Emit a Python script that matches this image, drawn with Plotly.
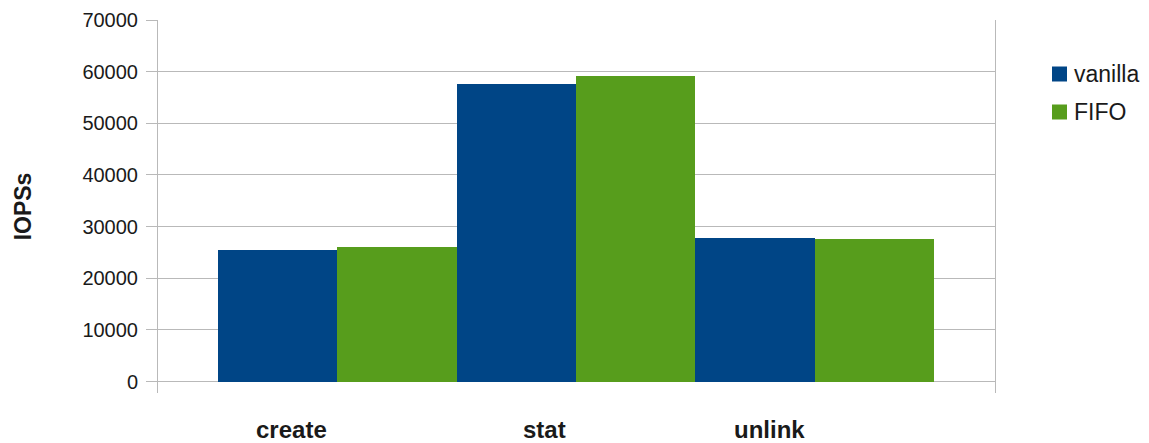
import plotly.graph_objects as go

# Metadata benchmark: IOPS per operation, vanilla vs FIFO scheduler
operations = ["create", "stat", "unlink"]
series_names = ["vanilla", "FIFO"]
vanilla_iops = [25500, 57600, 27800]
fifo_iops = [26000, 59200, 27600]
y_ticks = [0, 10000, 20000, 30000, 40000, 50000, 60000, 70000]

colors = ["#004586", "#579d1c"]
font_family = "Liberation Sans, Arial, sans-serif"
text_color = "#1a1a1a"
grid_color = "#b9b9b9"

fig = go.Figure()
for name, vals, col in zip(series_names, [vanilla_iops, fifo_iops], colors):
    fig.add_trace(go.Bar(
        x=operations, y=vals, name=name,
        marker=dict(color=col, line=dict(width=0)),
        showlegend=False,
    ))

# Category labels sit below the plot, right-aligned just left of each group centre
for op in operations:
    fig.add_annotation(x=op, xref="x", y=0, yref="paper",
                       text=f"<b>{op}</b>", showarrow=False,
                       xanchor="right", yanchor="middle",
                       xshift=-8, yshift=-36,
                       font=dict(family=font_family, size=24, color=text_color))

# Legend drawn as square swatches with labels on the right side
legend_top_px = 66.5
legend_step_px = 38
plot_top_px, plot_bottom_px = 20, 393
for i, (name, col) in enumerate(zip(series_names, colors)):
    top = legend_top_px + i * legend_step_px
    y0 = (plot_bottom_px - (top + 15)) / (plot_bottom_px - plot_top_px)
    y1 = (plot_bottom_px - top) / (plot_bottom_px - plot_top_px)
    x0 = (1052 - 158) / (995 - 158)
    x1 = (1067 - 158) / (995 - 158)
    fig.add_shape(type="rect", xref="paper", yref="paper",
                  x0=x0, x1=x1, y0=y0, y1=y1,
                  fillcolor=col, line=dict(width=0))
    fig.add_annotation(xref="paper", yref="paper",
                       x=(1072 - 158) / (995 - 158), y=(y0 + y1) / 2,
                       text=name, showarrow=False,
                       xanchor="left", yanchor="middle",
                       font=dict(family=font_family, size=23, color=text_color))

fig.update_layout(
    width=1149, height=443,
    margin=dict(l=158, r=154, t=20, b=50, pad=0),
    paper_bgcolor="white", plot_bgcolor="white",
    barmode="group", bargap=0, bargroupgap=0,
    font=dict(family=font_family, color=text_color),
    xaxis=dict(
        range=[-0.751, 2.755],
        automargin=False,
        showgrid=False, showline=False, zeroline=False,
        ticks="", showticklabels=False,
    ),
    yaxis=dict(
        range=[-2227, 70000],
        automargin=False,
        tickvals=y_ticks,
        ticktext=[str(v) for v in y_ticks],
        showgrid=True, gridcolor=grid_color, gridwidth=1,
        zeroline=False,
        showline=True, linecolor=grid_color, linewidth=1, mirror=True,
        ticks="outside", ticklen=11, tickcolor=grid_color, tickwidth=1,
        tickfont=dict(family=font_family, size=20, color=text_color),
        ticklabelstandoff=4,
        title=dict(text="IOPSs", standoff=44,
                   font=dict(family=font_family, size=23, color=text_color, weight="bold")),
    ),
)

fig.write_html("out.html")
